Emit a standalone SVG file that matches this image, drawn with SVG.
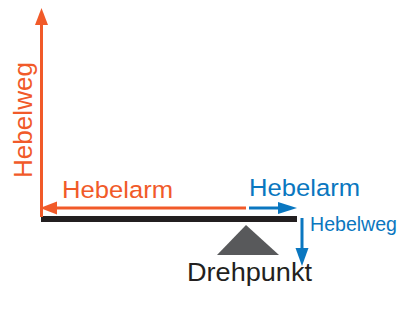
<svg xmlns="http://www.w3.org/2000/svg" width="398" height="333" viewBox="0 0 398 333">
  <style>
    .t { font-family: "Liberation Sans", Arial, sans-serif; }
    .or { fill: #F15A29; }
    .bl { fill: #0A77C0; }
    .ol { stroke: #F15A29; stroke-width: 3; fill: none; }
    .bll { stroke: #0A77C0; stroke-width: 3; fill: none; }
  </style>
  <rect width="398" height="333" fill="#ffffff"/>

  <g id="lever">
    <rect x="41" y="216" width="256" height="6" fill="#231F20"/>
  </g>
  <g id="fulcrum">
    <polygon points="246,225 217,255 279,255" fill="#58595B"/>
    <text class="t" x="187" y="281" font-size="25" fill="#231F20" textLength="125" lengthAdjust="spacingAndGlyphs">Drehpunkt</text>
  </g>

  <g id="connectors">
    <!-- orange: vertical travel and long arm -->
    <line class="ol" x1="41.5" y1="24" x2="41.5" y2="217"/>
    <polygon class="or" points="41.5,8 35,25 48,25"/>
    <line class="ol" x1="55" y1="208" x2="246" y2="208"/>
    <polygon class="or" points="40,208 57,201.5 57,214.5"/>
    <!-- blue: short arm and its travel -->
    <line class="bll" x1="249" y1="208" x2="280" y2="208"/>
    <polygon class="bl" points="297,208 278,202 278,214"/>
    <line class="bll" x1="302" y1="218" x2="302" y2="250"/>
    <polygon class="bl" points="302,266 295.5,248 308.5,248"/>
  </g>

  <g id="label-hebelweg-left">
    <text class="t or" transform="translate(32,178) rotate(-90)" font-size="26" textLength="116" lengthAdjust="spacingAndGlyphs">Hebelweg</text>
  </g>
  <g id="label-hebelarm-left">
    <text class="t or" x="62" y="198" font-size="24.5" textLength="111" lengthAdjust="spacingAndGlyphs">Hebelarm</text>
  </g>
  <g id="label-hebelarm-right">
    <text class="t bl" x="249" y="196" font-size="24.5" textLength="111" lengthAdjust="spacingAndGlyphs">Hebelarm</text>
  </g>
  <g id="label-hebelweg-right">
    <text class="t bl" x="310" y="231" font-size="19.5" textLength="87" lengthAdjust="spacingAndGlyphs">Hebelweg</text>
  </g>
</svg>
